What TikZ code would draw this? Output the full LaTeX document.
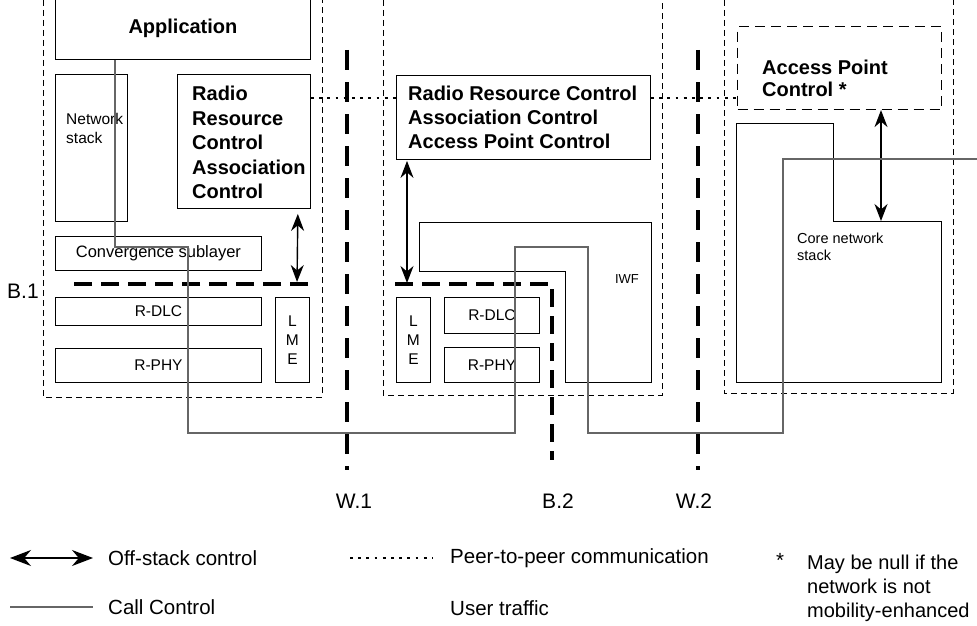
\documentclass[tikz,border=0pt]{standalone}
\usepackage{fontspec}
\setmainfont{Liberation Sans}
\usetikzlibrary{arrows.meta, positioning, calc}

\begin{document}
\begin{tikzpicture}[
    x=1pt, y=-1pt,
    blk/.style={draw, line width=0.9pt, anchor=north west, inner sep=0pt},
    zonebox/.style={line width=0.9pt, dash pattern=on 6pt off 4pt},
    apcbox/.style={draw, line width=1.1pt, dash pattern=on 10pt off 6pt, anchor=north west, inner sep=0pt},
    refpt/.style={line width=4pt, dash pattern=on 20pt off 12pt},
    bref/.style={line width=3.5pt, dash pattern=on 18pt off 9pt},
    ctl/.style={{Stealth[length=17pt, width=13pt]}-{Stealth[length=17pt, width=13pt]}, line width=1.4pt},
    peer/.style={line width=2.8pt, dash pattern=on 2.8pt off 5.4pt},
    call/.style={black!60, line width=1.7pt},
    bigtxt/.style={font=\fontsize{20}{24.5}\selectfont\bfseries, align=left, anchor=north west, inner sep=0pt},
    smtxt/.style={font=\fontsize{15.5}{19}\selectfont},
    lbl/.style={font=\fontsize{21}{24}\selectfont},
    lgd/.style={font=\fontsize{20.5}{25}\selectfont, anchor=west, inner sep=0pt},
]
\useasboundingbox (0,0) rectangle (977,626);

% ── Terminal (left zone) ──
\draw[zonebox] (43,0) |- (322,397) -- (322,0);
\node[blk, anchor=south west, minimum width=255pt, minimum height=62pt, font=\fontsize{20}{24}\selectfont\bfseries] (app) at (55,60) {Application};
\node[blk, minimum width=72pt, minimum height=147pt] (netstk) at (55,74) {};
\node[smtxt, align=left, anchor=north west, inner sep=0pt] (netstklbl) at (66,113) {Network\\stack};
\node[blk, minimum width=133pt, minimum height=134pt] (rrcL) at (177,74) {};
\node[bigtxt] (rrcLlbl) at (192,86) {Radio\\Resource\\Control\\Association\\Control};
\node[blk, font=\fontsize{16.5}{19}\selectfont, minimum width=206pt, minimum height=34pt] (conv) at (55,236) {Convergence sublayer};
\node[blk, smtxt, minimum width=206pt, minimum height=28pt] (dlcL) at (55,297) {R-DLC};
\node[blk, smtxt, minimum width=206pt, minimum height=34pt] (phyL) at (55,348) {R-PHY};
\node[blk, smtxt, align=center, minimum width=34pt, minimum height=85pt] (lmeL) at (275,297) {L\\M\\E};

% ── B.1 ──
\coordinate (b1e) at (308,284);
\coordinate (b1s) at (67,284);
\draw[bref] (b1e) -- (b1s);
\node[lbl] (b1lbl) at (23,291) {B.1};
\draw[ctl, shorten <=5pt, shorten >=2pt] ([xshift=-13pt]rrcL.south east) -- ([xshift=-11pt]b1e);

% ── Access point (middle zone) ──
\draw[zonebox] (383,0) |- (662,395) -- (662,0);
\node[blk, minimum width=254pt, minimum height=84pt] (rrcM) at (396,75) {};
\node[bigtxt, font=\fontsize{20}{24}\selectfont\bfseries] (rrcMlbl) at (408,86) {Radio Resource Control\\Association Control\\Access Point Control};
\draw[line width=0.9pt] (419,222) -- (651,222) -- (651,382) -- (565,382) -- (565,271) -- (419,271) -- cycle;
\node[font=\fontsize{13}{15}\selectfont] (iwflbl) at (627,279) {IWF};
\node[blk, smtxt, align=center, minimum width=34pt, minimum height=85pt] (lmeM) at (396,297) {L\\M\\E};
\node[blk, smtxt, minimum width=95pt, minimum height=36pt] (dlcM) at (444,297) {R-DLC};
\node[blk, smtxt, minimum width=95pt, minimum height=35pt] (phyM) at (444,347) {R-PHY};

% ── B.2 ──
\coordinate (b2s) at (395,284);
\coordinate (b2c) at (552,284);
\coordinate (b2e) at (552,460);
\draw[bref] (b2s) -- (b2c) -- (b2e);
\node[lbl] (b2lbl) at (558,501) {B.2};
\draw[ctl, shorten <=1pt, shorten >=1pt] ([xshift=11pt]rrcM.south west) -- ([xshift=12pt]b2s);

% ── Core network (right zone) ──
\draw[zonebox] (724,0) |- (953,393) -- (953,0);
\node[apcbox, minimum width=204pt, minimum height=83pt] (apc) at (737,26) {};
\node[bigtxt, font=\fontsize{20}{21.5}\selectfont\bfseries] (apclbl) at (762,60) {Access Point\\Control *};
\draw[line width=0.9pt] (736,123) -- (833,123) -- (833,221) -- (941,221) -- (941,382) -- (736,382) -- cycle;
\node[font=\fontsize{14.5}{16.5}\selectfont, align=left, anchor=north west, inner sep=0pt] (corelbl) at (797,233) {Core network\\stack};
\coordinate (corestep) at (881,221);
\draw[ctl] ([xshift=144pt]apc.south west) -- (corestep);

% ── Reference points W.1, W.2 ──
\coordinate (w1t) at (347,50);
\coordinate (w1b) at (347,470);
\draw[refpt] (w1t) -- (w1b);
\node[lbl] (w1lbl) at (354,501) {W.1};
\coordinate (w2t) at (698,50);
\coordinate (w2b) at (698,470);
\draw[refpt] (w2t) -- (w2b);
\node[lbl] (w2lbl) at (694,501) {W.2};

% ── Peer-to-peer ──
\coordinate (p2p) at (0,98);
\draw[peer] (rrcL.east |- p2p) -- (rrcM.west |- p2p);
\draw[peer] (rrcM.east |- p2p) -- (apc.west |- p2p);

% ── Call control ──
\coordinate (ccend) at (977,159);
\draw[call] ([xshift=60pt]app.south west) -- (115,247) -- (188,247) -- (188,433) -- (515,433) -- (515,247)
    -- (588,247) -- (588,433) -- (783,433) -- (783,159) -- (ccend);

% ── Legend ──
\coordinate (lg1a) at (10,558);
\coordinate (lg1b) at (93,558);
\draw[ctl, {Stealth[length=21pt, width=16pt]}-{Stealth[length=21pt, width=16pt]}] (lg1a) -- (lg1b);
\node[lgd] (lg1) at (108,558) {Off-stack control};
\coordinate (lg2a) at (10,607);
\coordinate (lg2b) at (93,607);
\draw[call] (lg2a) -- (lg2b);
\node[lgd] (lg2) at (108,607) {Call Control};
\coordinate (lg3a) at (350,558);
\coordinate (lg3b) at (433,558);
\draw[peer] (lg3a) -- (lg3b);
\node[lgd] (lg3) at (450,558) {Peer-to-peer communication};
\node[lgd] (lg4) at (450,608) {User traffic};
\node[lgd] (lgstar) at (776,560) {*};
\node[lgd, align=left, anchor=north west, font=\fontsize{20}{24}\selectfont] (lg5) at (807,555) {May be null if the\\network is not\\mobility-enhanced};

\end{tikzpicture}
\end{document}
